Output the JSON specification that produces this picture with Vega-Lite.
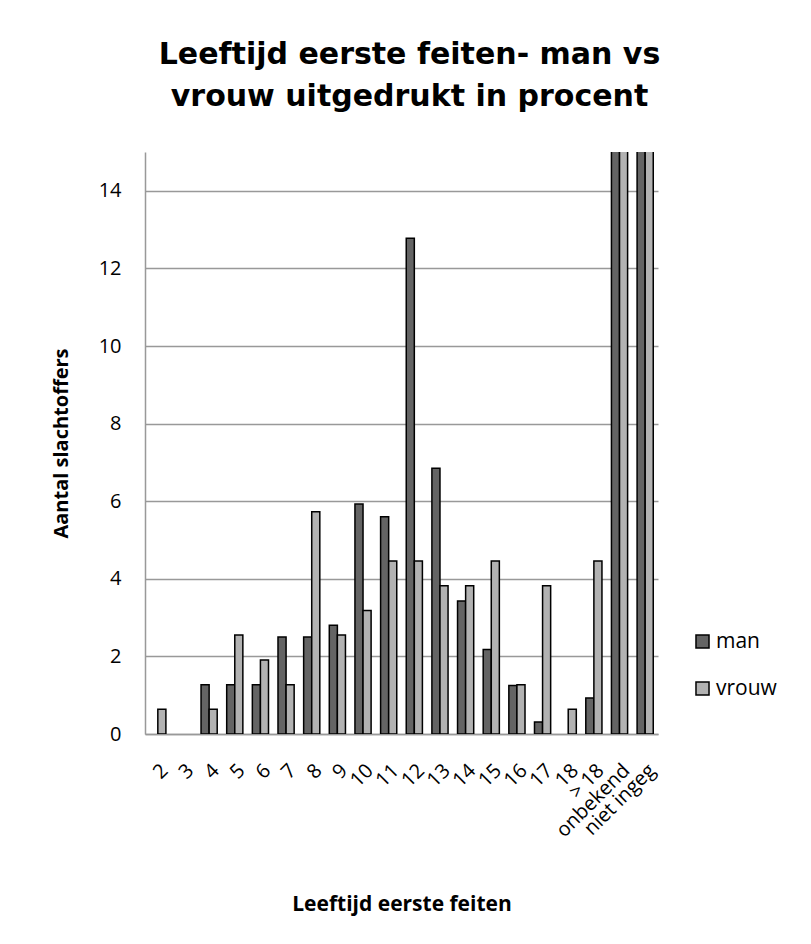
{
  "$schema": "https://vega.github.io/schema/vega-lite/v6.json",
  "width": 513,
  "height": 582,
  "autosize": {"type": "none"},
  "padding": {"left": 145, "top": 152, "right": 153, "bottom": 210},
  "background": "white",
  "title": {
    "text": ["Leeftijd eerste feiten- man vs", "vrouw uitgedrukt in procent"],
    "font": "DejaVu Sans",
    "fontSize": 30,
    "fontWeight": "bold",
    "color": "black",
    "lineHeight": 42,
    "anchor": "middle",
    "offset": 40,
    "dx": 8
  },
  "data": {
    "values": [
      {"age": "2", "sex": "vrouw", "value": 0.64},
      {"age": "4", "sex": "man", "value": 1.27},
      {"age": "4", "sex": "vrouw", "value": 0.64},
      {"age": "5", "sex": "man", "value": 1.27},
      {"age": "5", "sex": "vrouw", "value": 2.55},
      {"age": "6", "sex": "man", "value": 1.27},
      {"age": "6", "sex": "vrouw", "value": 1.91},
      {"age": "7", "sex": "man", "value": 2.5},
      {"age": "7", "sex": "vrouw", "value": 1.27},
      {"age": "8", "sex": "man", "value": 2.5},
      {"age": "8", "sex": "vrouw", "value": 5.73},
      {"age": "9", "sex": "man", "value": 2.8},
      {"age": "9", "sex": "vrouw", "value": 2.55},
      {"age": "10", "sex": "man", "value": 5.93},
      {"age": "10", "sex": "vrouw", "value": 3.18},
      {"age": "11", "sex": "man", "value": 5.6},
      {"age": "11", "sex": "vrouw", "value": 4.46},
      {"age": "12", "sex": "man", "value": 12.78},
      {"age": "12", "sex": "vrouw", "value": 4.46},
      {"age": "13", "sex": "man", "value": 6.85},
      {"age": "13", "sex": "vrouw", "value": 3.82},
      {"age": "14", "sex": "man", "value": 3.43},
      {"age": "14", "sex": "vrouw", "value": 3.82},
      {"age": "15", "sex": "man", "value": 2.18},
      {"age": "15", "sex": "vrouw", "value": 4.46},
      {"age": "16", "sex": "man", "value": 1.25},
      {"age": "16", "sex": "vrouw", "value": 1.27},
      {"age": "17", "sex": "man", "value": 0.31},
      {"age": "17", "sex": "vrouw", "value": 3.82},
      {"age": "18", "sex": "vrouw", "value": 0.64},
      {"age": "> 18", "sex": "man", "value": 0.93},
      {"age": "> 18", "sex": "vrouw", "value": 4.46},
      {"age": "onbekend", "sex": "man", "value": 30},
      {"age": "onbekend", "sex": "vrouw", "value": 25},
      {"age": "niet ingeg", "sex": "man", "value": 28},
      {"age": "niet ingeg", "sex": "vrouw", "value": 22}
    ]
  },
  "mark": {"type": "bar", "stroke": "black", "strokeWidth": 1.5, "clip": true},
  "encoding": {
    "x": {
      "field": "age",
      "type": "nominal",
      "sort": ["2","3","4","5","6","7","8","9","10","11","12","13","14","15","16","17","18","> 18","onbekend","niet ingeg"],
      "scale": {"domain": ["2","3","4","5","6","7","8","9","10","11","12","13","14","15","16","17","18","> 18","onbekend","niet ingeg"], "paddingInner": 0.37, "paddingOuter": 0.185},
      "axis": {
        "title": "Leeftijd eerste feiten",
        "titleFont": "Open Sans",
        "titleFontSize": 21,
        "titleFontWeight": "bold",
        "titleColor": "black",
        "titlePadding": 53,
        "labelAngle": -45,
        "labelFont": "Open Sans",
        "labelFontSize": 20,
        "labelColor": "black",
        "labelPadding": 26,
        "ticks": false,
        "domainColor": "#999999",
        "domainWidth": 1.5,
        "grid": false
      }
    },
    "xOffset": {"field": "sex", "type": "nominal", "scale": {"domain": ["man", "vrouw"], "paddingInner": 0}},
    "y": {
      "field": "value",
      "type": "quantitative",
      "scale": {"domain": [0, 15], "nice": false},
      "axis": {
        "title": "Aantal slachtoffers",
        "titleFont": "Open Sans",
        "titleFontSize": 20,
        "titleFontWeight": "bold",
        "titleColor": "black",
        "titlePadding": 27,
        "values": [0, 2, 4, 6, 8, 10, 12, 14],
        "labelFont": "Open Sans",
        "labelFontSize": 20,
        "labelColor": "black",
        "labelPadding": 24,
        "ticks": false,
        "domainColor": "#999999",
        "domainWidth": 1.5,
        "grid": true,
        "gridColor": "#999999",
        "gridWidth": 1.5
      }
    },
    "fill": {
      "field": "sex",
      "type": "nominal",
      "scale": {"domain": ["man", "vrouw"], "range": ["#646464", "#b2b2b2"]},
      "legend": {
        "title": null,
        "orient": "none",
        "legendX": 547,
        "legendY": 479,
        "symbolType": "square",
        "symbolSize": 170,
        "symbolStrokeColor": "black",
        "symbolStrokeWidth": 1.5,
        "labelFont": "Open Sans",
        "labelFontSize": 21,
        "labelColor": "black",
        "labelOffset": 3,
        "rowPadding": 25
      }
    }
  },
  "config": {"view": {"stroke": null}}
}
